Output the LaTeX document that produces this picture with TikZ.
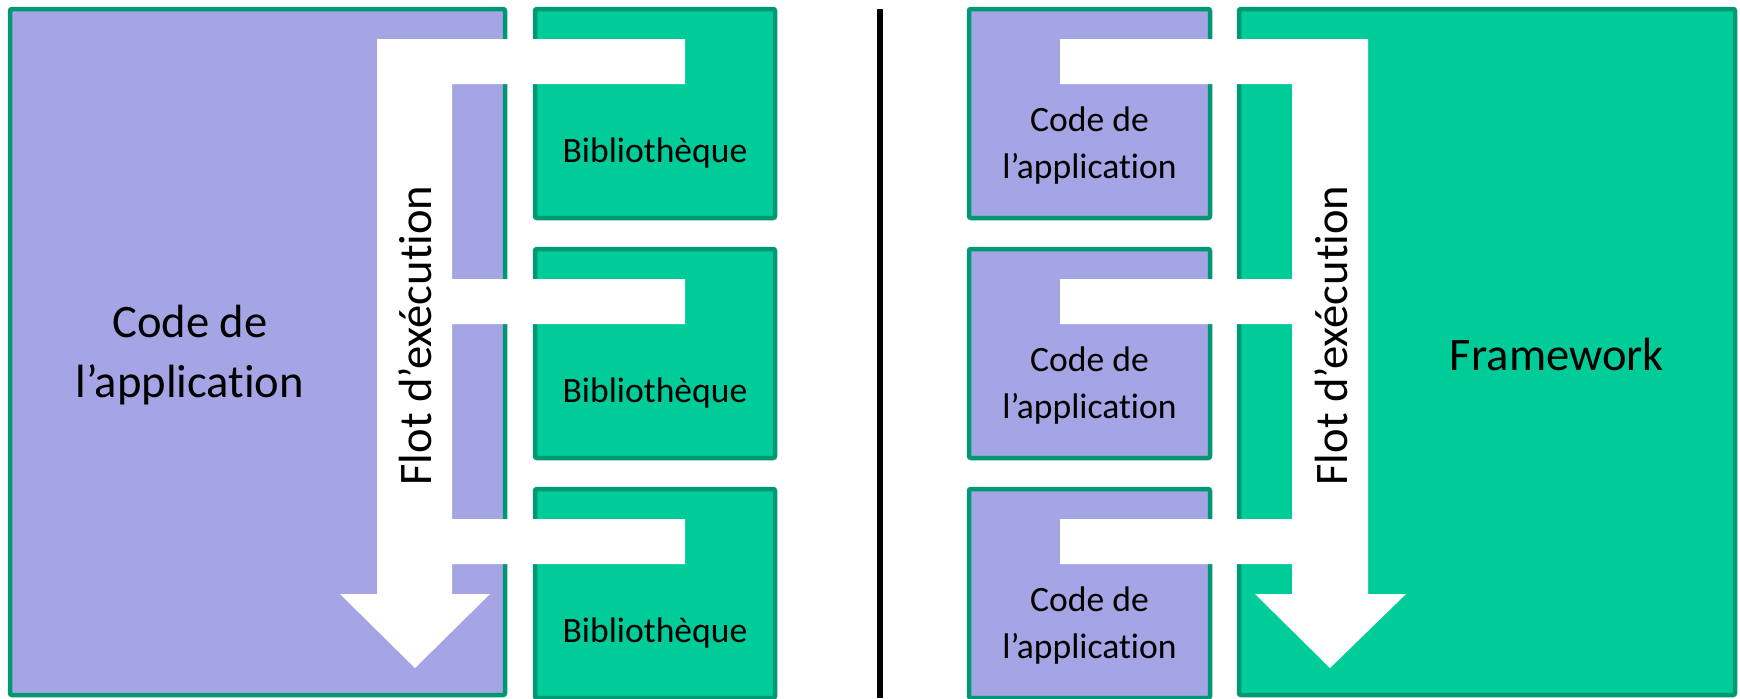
\documentclass[tikz,border=0pt]{standalone}
\usepackage{fontspec}
\setmainfont{Carlito}[Ligatures=NoCommon]
\definecolor{appfill}{RGB}{165,165,230}
\definecolor{libfill}{RGB}{0,204,153}
\definecolor{edge}{RGB}{0,152,114}
\tikzset{
  appbox/.style={draw=edge, fill=appfill, line width=2.25pt, rounded corners=1pt},
  libbox/.style={draw=edge, fill=libfill, line width=2.25pt, rounded corners=1pt},
  flow/.style={fill=white, draw=none},
  bigtxt/.style={font=\fontsize{23.3}{30}\selectfont, align=center, inner sep=0pt},
  smalltxt/.style={font=\fontsize{17.8}{23.5}\selectfont, align=center, inner sep=0pt},
  divider/.style={line width=3pt, black}
}
\begin{document}
\begin{tikzpicture}[x=0.5pt, y=-0.5pt]
\useasboundingbox (0,0) rectangle (1740,698);

% ---- left: application calls libraries ----
\draw[appbox] (10,9) rectangle (505,695);
\coordinate (appL) at (190,355);
\foreach \t in {9, 249, 489} {
  \draw[libbox] (535,\t) rectangle (775,{\t+209});
}

% execution flow (left)
\fill[flow] (377,39) -- (685,39) -- (685,84) -- (452,84) -- (452,279)
  -- (685,279) -- (685,324) -- (452,324) -- (452,519) -- (685,519)
  -- (685,564) -- (452,564) -- (452,594) -- (490,594) -- (415,668)
  -- (340,594) -- (377,594) -- cycle;

\node[bigtxt] (appbig) at (appL) {Code de\\l’application};
\node[smalltxt, anchor=base] (lib1) at (655,162) {Bibliothèque};
\node[smalltxt, anchor=base] (lib2) at (655,402) {Bibliothèque};
\node[smalltxt, anchor=base] (lib3) at (655,642) {Bibliothèque};
\node[bigtxt, rotate=90, anchor=base] (flowL) at (431,335.5) {Flot d’exécution};

% ---- separator ----
\coordinate (sepT) at (880,9);
\coordinate (sepB) at (880,698);
\draw[divider] (sepT) -- (sepB);

% ---- right: framework calls application code ----
\draw[libbox] (1239,9) rectangle (1735,695);
\foreach \t in {9, 249, 489} {
  \draw[appbox] (969,\t) rectangle (1210,{\t+209});
}

% execution flow (right)
\fill[flow] (1368,39) -- (1368,594) -- (1406,594) -- (1330,668)
  -- (1255,594) -- (1292,594) -- (1292,564) -- (1060,564) -- (1060,519)
  -- (1292,519) -- (1292,324) -- (1060,324) -- (1060,279) -- (1292,279)
  -- (1292,84) -- (1060,84) -- (1060,39) -- cycle;

\node[smalltxt] (app1) at (1089.5,145) {Code de\\l’application};
\node[smalltxt] (app2) at (1089.5,385) {Code de\\l’application};
\node[smalltxt] (app3) at (1089.5,625) {Code de\\l’application};
\node[bigtxt, rotate=90, anchor=base] (flowR) at (1347,335.5) {Flot d’exécution};
\node[bigtxt, anchor=base] (fw) at (1557,370) {Framework};
\end{tikzpicture}
\end{document}
